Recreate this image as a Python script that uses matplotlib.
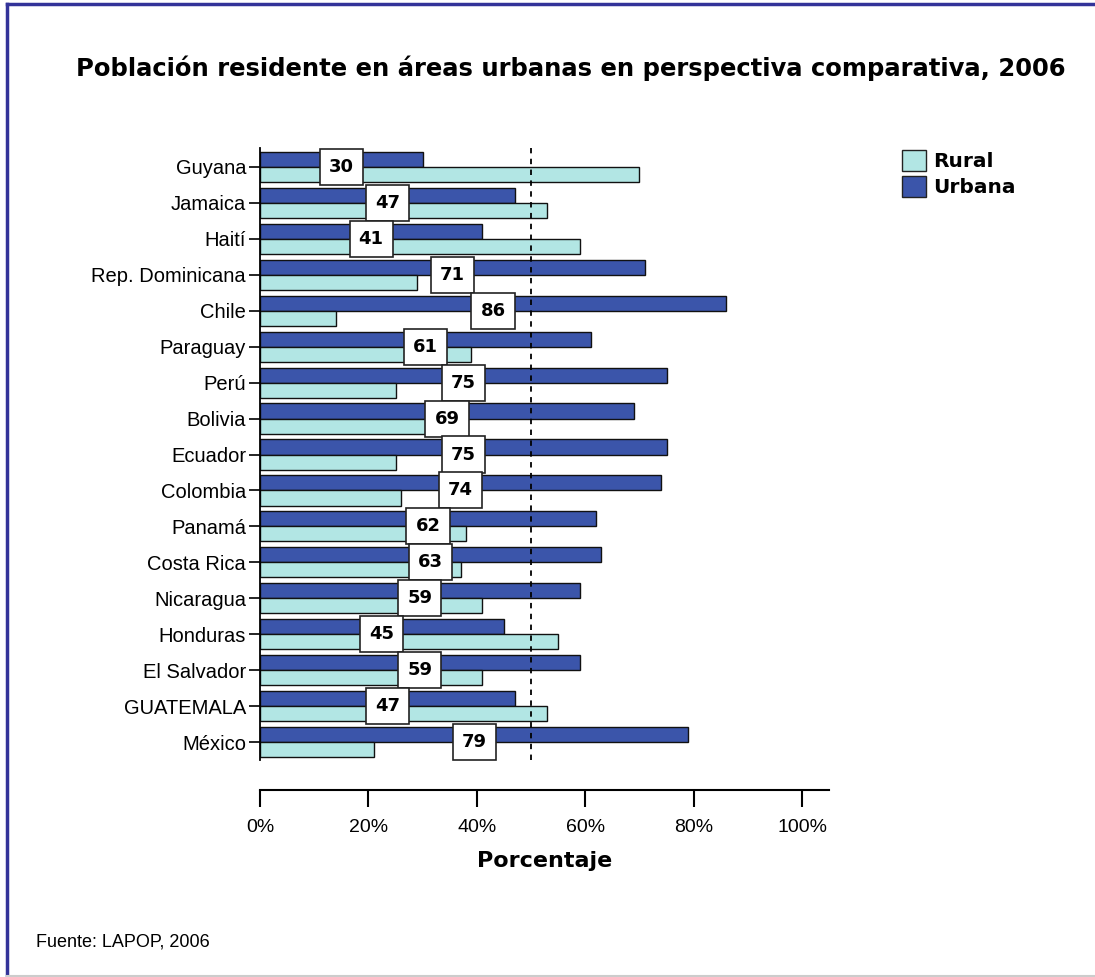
import matplotlib

matplotlib.use("Agg")
import matplotlib.pyplot as plt
from matplotlib.lines import Line2D
from matplotlib.patches import Patch
import numpy as np

PAISES = [
    "Guyana", "Jamaica", "Haití", "Rep. Dominicana", "Chile", "Paraguay",
    "Perú", "Bolivia", "Ecuador", "Colombia", "Panamá", "Costa Rica",
    "Nicaragua", "Honduras", "El Salvador", "GUATEMALA", "México",
]
URBANA = [30, 47, 41, 71, 86, 61, 75, 69, 75, 74, 62, 63, 59, 45, 59, 47, 79]
RURAL = [70, 53, 59, 29, 14, 39, 25, 31, 25, 26, 38, 37, 41, 55, 41, 53, 21]
TICKS_X = [0, 20, 40, 60, 80, 100]

COLOR_URBANA = "#3b55aa"
COLOR_RURAL = "#b2e6e4"

fig = plt.figure(figsize=(10.95, 9.77), dpi=100)
W, H = 1095, 977

# ejes: 0% en x=260, 100% en x=802; filas de y=167 (Guyana) a y=742 (México)
paso = (742 - 167) / 16
x0, x1 = 260, 260 + 105 * 5.42
ytop, ybot = 148, 790
ax = fig.add_axes([x0 / W, 1 - ybot / H, (x1 - x0) / W, (ybot - ytop) / H])

y = np.arange(len(PAISES))
alto = 0.42
ax.barh(y - alto / 2, URBANA, height=alto, color=COLOR_URBANA, edgecolor="#111111", linewidth=1)
ax.barh(y + alto / 2, RURAL, height=alto, color=COLOR_RURAL, edgecolor="#111111", linewidth=1)

ax.set_xlim(0, 105)
ax.set_ylim((ybot - 167) / paso, (ytop - 167) / paso)
ax.axvline(50, ymin=(ybot - 760) / (ybot - ytop), ymax=1.0, color="black",
           linestyle=(0, (3, 3)), linewidth=1.3)

for i, v in enumerate(URBANA):
    ax.text(v / 2, i, f"{v}", ha="center", va="center", fontsize=13, fontweight="bold",
            family="DejaVu Sans",
            bbox=dict(boxstyle="square,pad=0.5", facecolor="white", edgecolor="#222222",
                      linewidth=1.2))

ax.set_yticks(y)
ax.set_yticklabels(PAISES, fontsize=14.5, family="Liberation Sans")
ax.set_xticks(TICKS_X)
ax.set_xticklabels([f"{t}%" for t in TICKS_X], fontsize=14, family="Liberation Sans")
ax.tick_params(axis="y", length=8, width=1.2, pad=2)
ax.tick_params(axis="x", length=12, width=1.5, pad=9)
ax.spines["top"].set_visible(False)
ax.spines["right"].set_visible(False)
ax.spines["left"].set_bounds(-0.52, 16.5)
ax.spines["left"].set_linewidth(1.3)
ax.spines["bottom"].set_linewidth(1.5)
ax.set_xlabel("Porcentaje", fontsize=16, fontweight="bold", family="DejaVu Sans", labelpad=11)

fig.text(571 / W, 1 - 68 / H, "Población residente en áreas urbanas en perspectiva comparativa, 2006",
         ha="center", va="center", fontsize=17.5, fontweight="bold", family="DejaVu Sans")
fig.text(36 / W, 1 - 942 / H, "Fuente: LAPOP, 2006", ha="left", va="center", fontsize=13,
         family="Liberation Sans")

manijas = [Patch(facecolor=COLOR_RURAL, edgecolor="#222222"),
           Patch(facecolor=COLOR_URBANA, edgecolor="#222222")]
leg = fig.legend(manijas, ["Rural", "Urbana"], loc="upper left",
                 bbox_to_anchor=(884 / W, 1 - 132 / H), frameon=False,
                 handlelength=1.2, handleheight=1.2, handletextpad=0.35, labelspacing=0.25,
                 prop={"family": "DejaVu Sans", "weight": "bold", "size": 14.5})

# marco de la figura
fig.add_artist(Line2D([7 / W, 7 / W], [0, 1 - 4 / H], color="#333399", linewidth=2.5))
fig.add_artist(Line2D([7 / W, 1], [1 - 4 / H, 1 - 4 / H], color="#333399", linewidth=2.5))
fig.add_artist(Line2D([7 / W, 1], [1 / H, 1 / H], color="#cccccc", linewidth=1.5))

fig.savefig("out.png", dpi=100)
